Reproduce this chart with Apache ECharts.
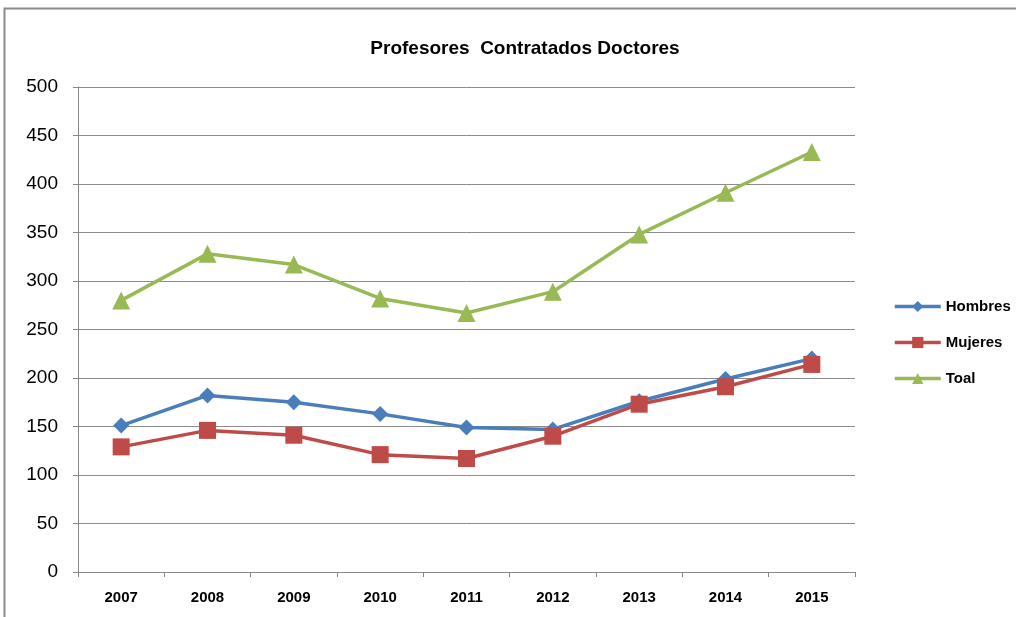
<!DOCTYPE html>
<html><head><meta charset="utf-8">
<script src="https://cdn.jsdelivr.net/npm/echarts@6/dist/echarts.min.js"></script>
<style>html,body{margin:0;padding:0;background:#fff}#c{width:1016px;height:617px}</style>
</head><body><div id="c"></div>
<script>
const categories = ['2007','2008','2009','2010','2011','2012','2013','2014','2015'];
const hombres = [151, 182, 175, 163, 149, 147, 176, 199, 220];
const mujeres = [129, 146, 141, 121, 117, 140, 173, 191, 214];
const total = [280, 328, 317, 282, 267, 289, 348, 391, 433];
const yTicks = [0, 50, 100, 150, 200, 250, 300, 350, 400, 450, 500];

const FONT = '"Liberation Sans Narrow", "Liberation Sans", sans-serif';
const chart = echarts.init(document.getElementById('c'));
chart.setOption({
  animation: false,
  backgroundColor: '#fff',
  title: {
    text: 'Profesores  Contratados Doctores',
    left: 520, top: 34, textAlign: 'center',
    textStyle: {fontFamily: FONT, fontSize: 19, fontWeight: 'bold', color: '#000'}
  },
  graphic: [{
    type: 'rect', shape: {x: 4.5, y: 8.5, width: 1030, height: 640},
    style: {fill: 'none', stroke: '#8a8a8a', lineWidth: 2}, silent: true
  }],
  legend: {
    orient: 'vertical', left: 888, top: 294, itemGap: 21,
    itemWidth: 46, itemHeight: 14,
    lineStyle: {width: 3.5},
    textStyle: {fontFamily: FONT, fontSize: 15, fontWeight: 'bold', color: '#000'},
    data: ['Hombres', 'Mujeres', 'Toal']
  },
  grid: {left: 78, right: 161, top: 87, bottom: 45},
  xAxis: {
    type: 'category', data: categories, boundaryGap: true,
    axisLine: {lineStyle: {color: '#888', width: 1}},
    axisTick: {show: true, length: 5, lineStyle: {color: '#888'}},
    axisLabel: {fontFamily: FONT, fontSize: 15, fontWeight: 'bold', color: '#000', margin: 18}
  },
  yAxis: {
    type: 'value', min: 0, max: 500, interval: 50,
    axisLine: {show: true, lineStyle: {color: '#888'}},
    axisTick: {show: true, length: 5, lineStyle: {color: '#888'}},
    splitLine: {lineStyle: {color: '#8c8c8c', width: 1}},
    axisLabel: {fontFamily: FONT, fontSize: 19, color: '#000', margin: 20,
      formatter: v => yTicks.includes(v) ? String(v) : ''}
  },
  series: [
    {name: 'Hombres', type: 'line', data: hombres, symbol: 'diamond', symbolSize: 16,
     lineStyle: {color: '#4a7ebb', width: 3.5}, itemStyle: {color: '#4a7ebb'}, z: 3},
    {name: 'Mujeres', type: 'line', data: mujeres, symbol: 'rect', symbolSize: 17,
     lineStyle: {color: '#be4b48', width: 3.5}, itemStyle: {color: '#be4b48'}, z: 4},
    {name: 'Toal', type: 'line', data: total, symbol: 'triangle', symbolSize: 18,
     lineStyle: {color: '#98b954', width: 3.5}, itemStyle: {color: '#98b954'}, z: 5}
  ]
});
</script></body></html>
